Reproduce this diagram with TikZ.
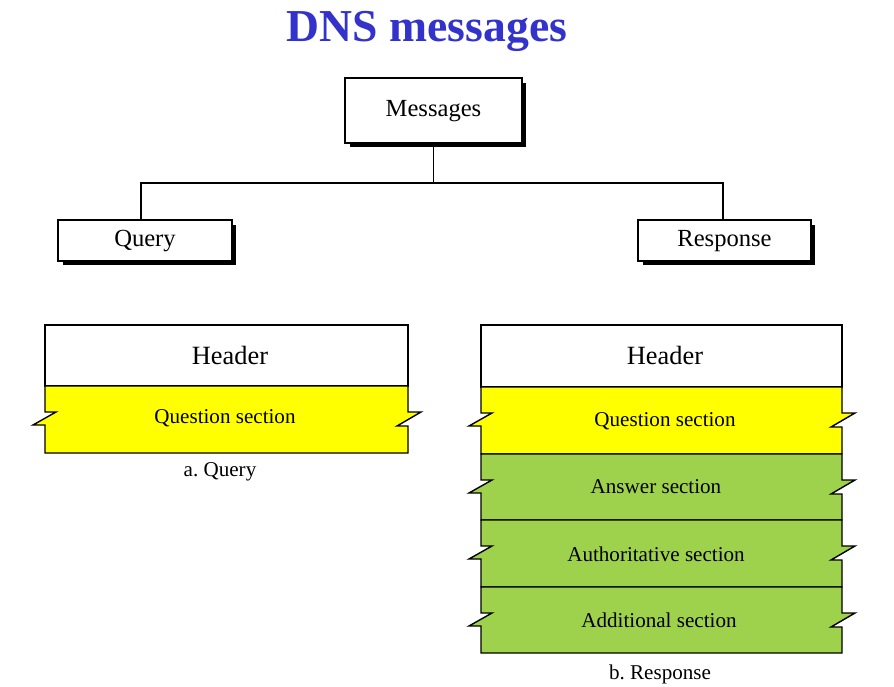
\documentclass[tikz,border=0pt]{standalone}
\usepackage{fontspec}
\setmainfont{Liberation Serif}
\usetikzlibrary{shadows}
\definecolor{titleblue}{RGB}{51,51,204}
\definecolor{secyellow}{RGB}{255,255,0}
\definecolor{secgreen}{RGB}{158,209,76}
\tikzset{
  boxed/.style={draw, fill=white, line width=0.8pt, inner sep=0pt,
    drop shadow={shadow xshift=0.09cm, shadow yshift=-0.09cm, fill=black, opacity=1},
    font=\fontsize{14}{16}\selectfont},
  sectext/.style={font=\fontsize{12}{14}\selectfont},
  headtext/.style={font=\fontsize{15}{17}\selectfont},
}
% section with break marks: left, right, top, bottom, colour
\newcommand{\notchsec}[5]{%
  \filldraw[fill=#5, line width=0.8pt] (#1,#3) -- (#2,#3) -- (#2,#3+26) -- ++(13,0) -- ++(-24,14) -- ++(11,0)
    -- (#2,#4) -- (#1,#4) -- (#1,#3+39) -- ++(-12,0) -- ++(23,-13) -- ++(-11,0) -- cycle;}

\begin{document}
\frenchspacing
\begin{tikzpicture}[x=0.02cm, y=-0.02cm]
    \useasboundingbox (0,0) rectangle (894,687);

    \node [font=\fontsize{26}{30}\selectfont\bfseries, text=titleblue, anchor=base] (title) at (427,41) {DNS messages};

    % tree
    \node [boxed, minimum width=3.54cm, minimum height=1.3cm] (msg) at (433.5,110.5) {Messages\strut};
    \node [boxed, minimum width=3.48cm, minimum height=0.82cm] (query) at (145,240.5) {Query\strut};
    \node [boxed, minimum width=3.46cm, minimum height=0.82cm] (resp) at (724.5,240.5) {Response\strut};
    \coordinate (bus) at (433.5,183);
    \draw [line width=0.8pt] (msg.south) -- (bus);
    \draw [line width=0.8pt] ([xshift=-0.08cm]query.north) |- (bus) -| ([xshift=-0.03cm]resp.north);

    % query format
    \draw [line width=0.8pt, fill=white] (45,325) rectangle (408,386);
    \notchsec{45}{408}{386}{453}{secyellow}
    \node [headtext] (qhead) at (230,355) {Header};
    \node [sectext] (qquest) at (225,418) {Question section};
    \node [sectext] (qlabel) at (220,472) {a. Query};

    % response format
    \draw [line width=0.8pt, fill=white] (481,325) rectangle (842,387);
    \notchsec{481}{842}{387}{454}{secyellow}
    \notchsec{481}{842}{454}{520}{secgreen}
    \notchsec{481}{842}{520}{587}{secgreen}
    \notchsec{481}{842}{587}{653}{secgreen}
    \node [headtext] (rhead) at (665,355) {Header};
    \node [sectext] (rquest) at (665,421) {Question section};
    \node [sectext] (rans) at (656,487) {Answer section};
    \node [sectext] (rauth) at (656,554) {Authoritative section};
    \node [sectext] (radd) at (659,620) {Additional section};
    \node [sectext] (rlabel) at (660,674) {b. Response};
\end{tikzpicture}
\end{document}
